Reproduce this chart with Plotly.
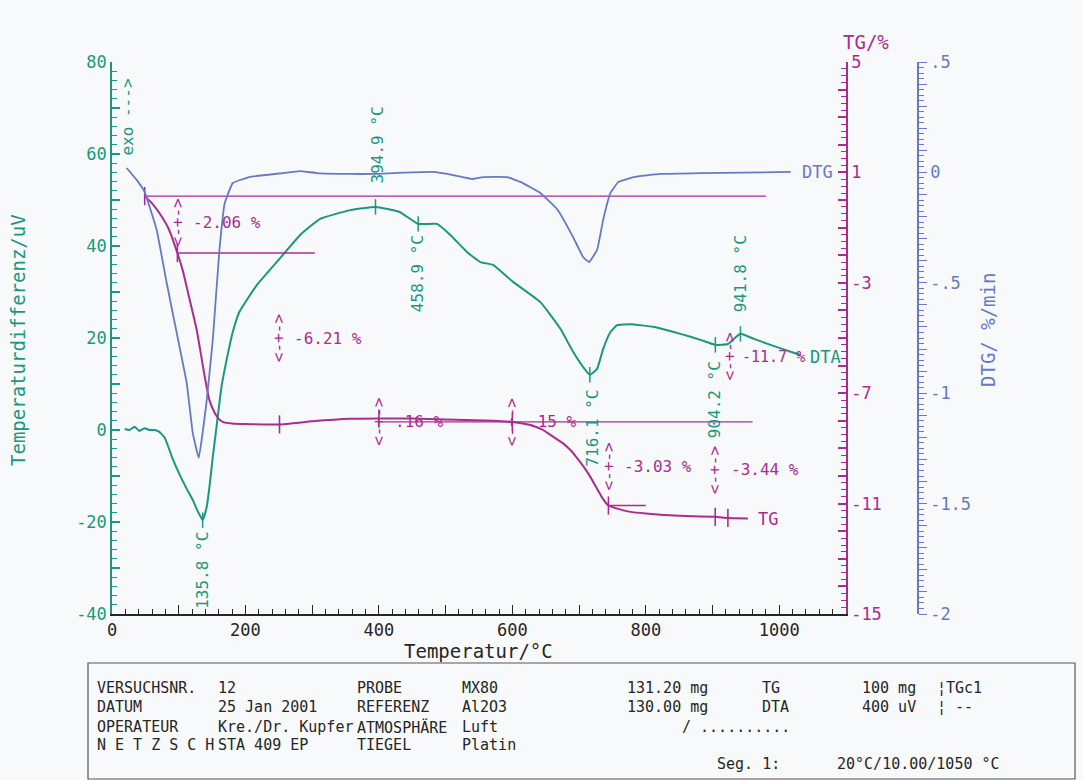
import plotly.graph_objects as go

# ---------------- data ----------------
# DTA signal (uV) against temperature (°C)
dta_temp = [19, 26, 34, 41, 49, 56, 64, 71, 79, 91, 101, 112, 121, 127, 135.8, 142, 146, 151, 157, 164,
            172, 181, 191, 217, 251, 282, 312, 357, 394.9, 431, 458.9, 487, 507, 532, 552, 571, 601, 642, 672, 691,
            706, 716.1, 727, 736, 747, 757, 777, 812, 852, 882, 904.2, 923, 941.8, 962, 987, 1017, 1032]
dta_val = [0.2, 0.0, 0.7, -0.2, 0.4, 0.0, 0.0, -0.4, -1.7, -6.3, -9.6, -12.8, -15.2, -17.2, -19.6, -16.7, -12.4, -5.9, 1.1, 9.3,
           15.4, 21.3, 25.7, 31.5, 37.2, 42.4, 45.9, 47.8, 48.5, 47.4, 44.8, 44.8, 42.4, 38.7, 36.5, 35.9, 32.2, 27.8, 22.0, 17.0,
           13.7, 12.0, 13.3, 17.6, 21.3, 22.8, 23.0, 22.4, 20.9, 19.6, 18.5, 18.7, 20.9, 19.8, 18.5, 17.0, 16.3]

# DTA peak temperatures that are marked and labelled
dta_peaks = [135.8, 394.9, 458.9, 716.1, 904.2, 941.8]

# TG mass change (%) against temperature (°C)
tg_temp = [49, 60, 71, 85, 98, 106, 113, 120, 127, 133, 139, 146, 154, 160, 166, 180, 200, 251, 300, 357,
           400, 450, 500, 560, 600, 627, 645, 662, 675, 687, 697, 707, 715, 722, 729, 735, 744, 760, 777, 800,
           827, 860, 904, 923, 953]
tg_val = [0.14, -0.12, -0.47, -1.05, -1.92, -2.55, -3.26, -3.98, -4.71, -5.55, -6.41, -7.25, -7.72, -7.93, -8.04, -8.10, -8.12, -8.13, -8.02, -7.93,
          -7.92, -7.92, -7.95, -7.99, -8.04, -8.15, -8.32, -8.59, -8.80, -9.06, -9.35, -9.67, -9.96, -10.25, -10.55, -10.80, -11.07, -11.20, -11.30, -11.36,
          -11.41, -11.45, -11.48, -11.52, -11.54]

# TG evaluation points
tg_marks = [49, 98, 251, 400, 600, 744, 904, 923]

# TG reference levels: (start temp, end temp, level %)
tg_ref_start = [49, 98, 400, 744]
tg_ref_end = [980, 304, 960, 800]
tg_ref_level = [0.14, -1.92, -8.04, -11.07]

# TG step results: label, temperature of arrow, arrow level (%)
step_labels = ["-2.06 %", "-6.21 %", ".16 %", ".15 %", "-3.03 %", "-3.44 %", "-11.7 %"]
step_temp = [98, 249, 400, 600, 744, 904, 924]
step_level = [-0.80, -5.00, -8.04, -8.04, -9.64, -9.78, -5.69]

# DTG rate (%/min) against temperature (°C)
dtg_temp = [22, 37, 49, 67, 82, 97, 112, 121, 130, 142, 151, 161, 169, 181, 206, 256, 282, 307, 357, 391,
            481, 511, 540, 556, 592, 612, 642, 668, 691, 706, 715, 727, 736, 747, 759, 782, 822, 882, 1017]
dtg_val = [0.020, -0.034, -0.089, -0.261, -0.501, -0.727, -0.954, -1.180, -1.293, -1.031, -0.759, -0.351, -0.139, -0.048, -0.021, -0.003, 0.006, -0.003, -0.007, -0.007,
           0.002, -0.012, -0.030, -0.021, -0.021, -0.043, -0.093, -0.170, -0.293, -0.383, -0.406, -0.351, -0.216, -0.093, -0.043, -0.021, -0.007, -0.003, 0.002]

# axis tick labels
x_ticks = list(range(0, 1101, 100))
x_labels = [str(v) if v % 200 == 0 and v <= 1000 else "" for v in x_ticks]
dta_ticks = list(range(-40, 81, 10))
dta_labels = [str(v) if v % 20 == 0 else "" for v in dta_ticks]
tg_ticks = list(range(-15, 6))
tg_labels = [str(v) if (v - 5) % 4 == 0 else "" for v in tg_ticks]
dtg_ticks = [round(-2 + 0.1 * i, 2) for i in range(26)]
dtg_label_map = {0.5: ".5", 0.0: "0", -0.5: "-.5", -1.0: "-1", -1.5: "-1.5", -2.0: "-2"}
dtg_labels = [dtg_label_map.get(v, "") for v in dtg_ticks]

# measurement header table
table_rows = [
    ["VERSUCHSNR.", "12", "PROBE", "MX80", "131.20 mg", "TG", "100 mg", "¦TGc1"],
    ["DATUM", "25 Jan 2001", "REFERENZ", "Al2O3", "130.00 mg", "DTA", "400 uV", "¦ --"],
    ["OPERATEUR", "Kre./Dr. Kupfer", "ATMOSPHÄRE", "Luft", "", "", "", ""],
    ["N E T Z S C H", "STA 409 EP", "TIEGEL", "Platin", "", "", "", ""],
]
table_extra = ["/ ..........", "Seg. 1:", "20°C/10.00/1050 °C"]

# ---------------- styling ----------------
FONT = "DejaVu Sans Mono"
TEAL = "#1b977d"
MAGENTA = "#ab2c90"
BLUE = "#6879c4"
INK = "#262626"
BG = "#f7f9fa"

W, H = 1083, 780
ML, MR, MT, MB = 112, 165, 62, 166
PW, PH = W - ML - MR, H - MT - MB
TG_AXIS_PX = 846


def px(xp, yp):
    """Pixel position on the page -> paper coordinates."""
    return (xp - ML) / PW, (H - MB - yp) / PH


fig = go.Figure()

# DTA curve
fig.add_trace(go.Scatter(x=dta_temp, y=dta_val, mode="lines", yaxis="y",
                         line=dict(color=TEAL, width=2, shape="spline", smoothing=0.4),
                         hoverinfo="skip", showlegend=False))
peak_vals = [dta_val[dta_temp.index(t)] for t in dta_peaks]
fig.add_trace(go.Scatter(x=dta_peaks, y=peak_vals, mode="markers", yaxis="y",
                         marker=dict(symbol="line-ns", size=11, line=dict(color=TEAL, width=1.5)),
                         hoverinfo="skip", showlegend=False))

# DTG curve
fig.add_trace(go.Scatter(x=dtg_temp, y=dtg_val, mode="lines", yaxis="y3",
                         line=dict(color=BLUE, width=1.8, shape="spline", smoothing=0.3),
                         hoverinfo="skip", showlegend=False))

# TG reference levels
for t0, t1, lv in zip(tg_ref_start, tg_ref_end, tg_ref_level):
    fig.add_trace(go.Scatter(x=[t0, t1], y=[lv, lv], mode="lines", yaxis="y2",
                             line=dict(color=MAGENTA, width=1.4),
                             hoverinfo="skip", showlegend=False))

# TG curve
fig.add_trace(go.Scatter(x=tg_temp, y=tg_val, mode="lines", yaxis="y2",
                         line=dict(color=MAGENTA, width=2, shape="spline", smoothing=0.4),
                         hoverinfo="skip", showlegend=False))
mark_vals = [tg_val[tg_temp.index(t)] for t in tg_marks]
fig.add_trace(go.Scatter(x=tg_marks, y=mark_vals, mode="markers", yaxis="y2",
                         marker=dict(symbol="line-ns", size=13, line=dict(color=MAGENTA, width=1.6)),
                         hoverinfo="skip", showlegend=False))

annotations = []

# peak temperature labels (rotated, placed beside the marker)
peak_shift = {135.8: (0, -50), 394.9: (2, 62), 458.9: (0, -50), 716.1: (3, -53), 904.2: (0, -55), 941.8: (0, 60)}
for t, v in zip(dta_peaks, peak_vals):
    dx, dy = peak_shift[t]
    annotations.append(dict(x=t, y=v, xref="x", yref="y", text=f"{t:.1f} °C", textangle=-90,
                            showarrow=False, xanchor="center", yanchor="middle", xshift=dx, yshift=dy,
                            font=dict(family=FONT, size=16, color=TEAL)))

# TG step arrows and values
for lab, t, lv in zip(step_labels, step_temp, step_level):
    annotations.append(dict(x=t, y=lv, xref="x", yref="y2", text="<-+->", textangle=-90,
                            showarrow=False, xanchor="center", yanchor="middle",
                            font=dict(family=FONT, size=16, color=MAGENTA)))
    total = lab.startswith("-11")
    annotations.append(dict(x=t, y=lv, xref="x", yref="y2", text=lab,
                            showarrow=False, xanchor="left", yanchor="middle",
                            xshift=11 if total else 14,
                            font=dict(family=FONT, size=15 if total else 16, color=MAGENTA)))

# curve names
annotations.append(dict(x=dta_temp[-1], y=dta_val[-1], xref="x", yref="y", text="DTA", showarrow=False,
                        xanchor="left", yanchor="middle", xshift=7, yshift=-2,
                        font=dict(family=FONT, size=17, color=TEAL)))
annotations.append(dict(x=tg_temp[-1], y=tg_val[-1], xref="x", yref="y2", text="TG", showarrow=False,
                        xanchor="left", yanchor="middle", xshift=8,
                        font=dict(family=FONT, size=17, color=MAGENTA)))
annotations.append(dict(x=dtg_temp[-1], y=dtg_val[-1], xref="x", yref="y3", text="DTG", showarrow=False,
                        xanchor="left", yanchor="middle", xshift=9,
                        font=dict(family=FONT, size=17, color=BLUE)))

# exo direction marker
annotations.append(dict(x=23, y=68, xref="x", yref="y", text="exo --->", textangle=-90, showarrow=False,
                        xanchor="center", yanchor="middle", font=dict(family=FONT, size=16, color=TEAL)))

# axis titles
for text, (xp, yp), ang, col in [
    ("Temperaturdifferenz/uV", (18, 340), -90, TEAL),
    ("TG/%", (866, 42), 0, MAGENTA),
    ("DTG/ %/min", (988, 330), -90, BLUE),
    ("Temperatur/°C", (478, 651), 0, INK),
]:
    xx, yy = px(xp, yp)
    annotations.append(dict(x=xx, y=yy, xref="paper", yref="paper", text=text, textangle=ang,
                            showarrow=False, xanchor="center", yanchor="middle",
                            font=dict(family=FONT, size=19, color=col)))

# header table text
col_px = [95, 216, 355, 460, 625, 760, 860, 935]
row_px = [688, 707, 727, 745]
for r, row in enumerate(table_rows):
    for c, cell in enumerate(row):
        if not cell:
            continue
        xx, yy = px(col_px[c], row_px[r])
        annotations.append(dict(x=xx, y=yy, xref="paper", yref="paper", text=cell, showarrow=False,
                                xanchor="left", yanchor="middle",
                                font=dict(family=FONT, size=15, color=INK)))
for text, (xp, yp) in zip(table_extra, [(680, 727), (715, 764), (835, 764)]):
    xx, yy = px(xp, yp)
    annotations.append(dict(x=xx, y=yy, xref="paper", yref="paper", text=text, showarrow=False,
                            xanchor="left", yanchor="middle",
                            font=dict(family=FONT, size=15, color=INK)))

# header table frame
bx0, by0 = px(88, 663)
bx1, by1 = px(1075, 779)
shapes = [dict(type="rect", xref="paper", yref="paper", x0=bx0, y0=by1, x1=bx1, y1=by0,
               line=dict(color="#555555", width=1.2), fillcolor="rgba(0,0,0,0)")]

tick_font = dict(family=FONT, size=17)
fig.update_layout(
    width=W, height=H, autosize=False,
    margin=dict(l=ML, r=MR, t=MT, b=MB),
    paper_bgcolor=BG, plot_bgcolor=BG,
    showlegend=False,
    xaxis=dict(domain=[0, (TG_AXIS_PX - ML) / PW], range=[0, 1100], anchor="y",
               tickmode="array", tickvals=x_ticks, ticktext=x_labels,
               ticks="inside", ticklen=9, tickwidth=1.3, tickcolor=INK,
               minor=dict(dtick=20, ticklen=5, tickwidth=1.2, tickcolor=INK, ticks="inside"),
               showline=True, linecolor=INK, linewidth=1.5,
               tickfont=dict(tick_font, color=INK), showgrid=False, zeroline=False),
    yaxis=dict(range=[-40, 80], tickmode="array", tickvals=dta_ticks, ticktext=dta_labels,
               ticks="inside", ticklen=8, tickwidth=1.5, tickcolor=TEAL,
               minor=dict(dtick=2, ticklen=5, tickwidth=1.4, tickcolor=TEAL, ticks="inside"),
               showline=True, linecolor=TEAL, linewidth=1.5,
               tickfont=dict(tick_font, color=TEAL), showgrid=False, zeroline=False),
    yaxis2=dict(range=[-15, 5], overlaying="y", side="right", anchor="x",
                tickmode="array", tickvals=tg_ticks, ticktext=tg_labels,
                ticks="inside", ticklen=8, tickwidth=1.5, tickcolor=MAGENTA,
                minor=dict(dtick=0.25, ticklen=5, tickwidth=1.3, tickcolor=MAGENTA, ticks="inside"),
                showline=True, linecolor=MAGENTA, linewidth=1.5,
                tickfont=dict(tick_font, color=MAGENTA), showgrid=False, zeroline=False),
    yaxis3=dict(range=[-2, 0.5], overlaying="y", side="right", anchor="free", position=1,
                tickmode="array", tickvals=dtg_ticks, ticktext=dtg_labels,
                ticks="outside", ticklen=8, tickwidth=1.4, tickcolor=BLUE,
                minor=dict(dtick=0.025, ticklen=5, tickwidth=1.2, tickcolor=BLUE, ticks="outside"),
                showline=True, linecolor=BLUE, linewidth=1.5,
                tickfont=dict(tick_font, color=BLUE), showgrid=False, zeroline=False),
    annotations=annotations,
    shapes=shapes,
)

fig.write_html("out.html")
